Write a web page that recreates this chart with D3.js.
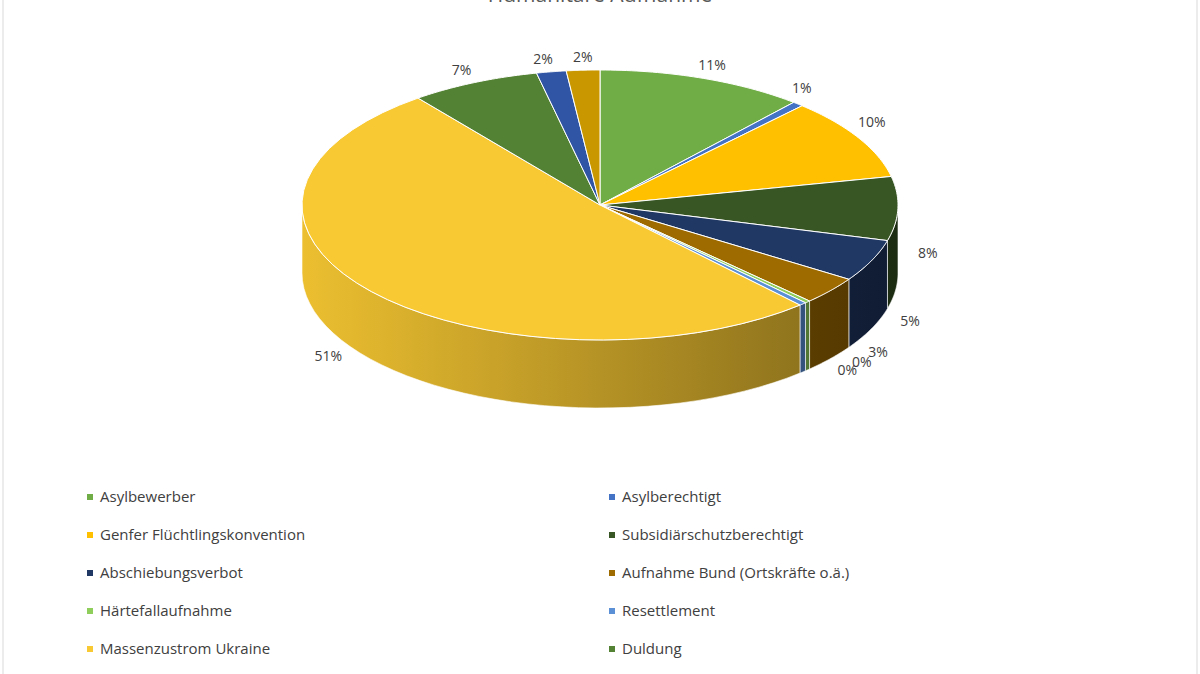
<!DOCTYPE html>
<html><head><meta charset="utf-8">
<script src="https://cdn.jsdelivr.net/npm/d3@7"></script>
<style>body{margin:0;background:#fff}svg{display:block}</style>
</head><body>
<svg id="chart" width="1200" height="674"></svg>
<script>
// values (percent of total)
const categories = ['Asylbewerber','Asylberechtigt','Genfer Flüchtlingskonvention','Subsidiärschutzberechtigt',
  'Abschiebungsverbot','Aufnahme Bund (Ortskräfte o.ä.)','Härtefallaufnahme','Resettlement',
  'Massenzustrom Ukraine','Duldung','Sonstige','Ohne Angabe'];
const shares = [11.2, 0.6, 9.7, 7.6, 5.0, 3.3, 0.3, 0.4, 51.0, 7.0, 1.6, 1.8];
const colors = ['#70ad47','#4472c4','#ffc000','#375623','#203864','#9e6b00','#8fce5a','#5b8fd6','#f9c933','#548235','#2f55a4','#c99700'];
const labelAngles = [20, 38, 56, 90, 109, 122, 127, 131, 236, 335, 350, 357];
const legendShown = 10;

const svg = d3.select('#chart');
const cx = 600, cy = 205, rx = 298, ry = 135, depth = 68;
const total = d3.sum(shares);
const ang = d3.scaleLinear().domain([0, total]).range([0, 2 * Math.PI]);
const pt = (a, r = 1, dz = 0) => [cx + rx * r * Math.sin(a), cy - ry * r * Math.cos(a) + dz];

let acc = 0;
const slices = shares.map((v, i) => {
  const s = { i, a0: ang(acc), a1: ang(acc + v) };
  acc += v;
  return s;
});

svg.append('rect').attr('x', 3).attr('y', -2).attr('width', 1194).attr('height', 680)
  .attr('fill', 'none').attr('stroke', '#d9d9d9');

const defs = svg.append('defs');
const arcPts = (a0, a1, dz) => d3.range(0, 41).map(k => pt(a0 + (a1 - a0) * k / 40, 1, dz));
const line = d3.line();

// side walls (front half only)
slices.forEach(s => {
  const a0 = Math.max(s.a0, Math.PI / 2), a1 = Math.min(s.a1, 3 * Math.PI / 2);
  if (a1 <= a0) return;
  const c = d3.color(colors[s.i]);
  const g = defs.append('linearGradient').attr('id', 'g' + s.i).attr('gradientUnits', 'userSpaceOnUse')
    .attr('x1', cx - rx).attr('x2', cx + rx).attr('y1', 0).attr('y2', 0);
  g.append('stop').attr('offset', 0).attr('stop-color', c.darker(0.15));
  g.append('stop').attr('offset', 1).attr('stop-color', c.darker(1.9));
  const top = arcPts(a0, a1, 0), bot = arcPts(a0, a1, depth).reverse();
  svg.append('path').attr('d', line(top.concat(bot)) + 'Z').attr('fill', `url(#g${s.i})`)
    .attr('stroke', '#fff').attr('stroke-width', 0.6);
});

// top faces
slices.forEach(s => {
  svg.append('path').attr('d', line([[cx, cy]].concat(arcPts(s.a0, s.a1, 0))) + 'Z')
    .attr('fill', colors[s.i]).attr('stroke', '#fff').attr('stroke-width', 1);
});

// data labels
slices.forEach(s => {
  const a = labelAngles[s.i] * Math.PI / 180;
  const drop = depth * Math.max(0, Math.min(1, -Math.cos(a) * 3 + 0.7));
  const [x, y] = pt(a, 1.1, drop);
  svg.append('text').attr('x', x).attr('y', y).attr('text-anchor', 'middle').attr('dy', '0.35em')
    .attr('font-family', 'Open Sans, sans-serif').attr('font-size', 14).attr('fill', '#404040')
    .text(Math.round(shares[s.i]) + '%');
});

svg.append('text').attr('x', 600).attr('y', 2).attr('text-anchor', 'middle')
  .attr('font-family', 'Open Sans, sans-serif').attr('font-size', 21).attr('fill', '#595959')
  .text('Humanitäre Aufnahme');

// legend, two columns (only the rows visible in the frame)
const lg = svg.append('g').selectAll('g').data(categories.slice(0, legendShown)).join('g')
  .attr('transform', (d, i) => `translate(${i % 2 ? 612 : 90},${497 + Math.floor(i / 2) * 38})`);
lg.append('rect').attr('x', -3).attr('y', -3).attr('width', 6).attr('height', 6).attr('fill', (d, i) => colors[i]);
lg.append('text').attr('x', 10).attr('dy', '0.35em').attr('font-family', 'Open Sans, sans-serif')
  .attr('font-size', 15).attr('fill', '#404040').text(d => d);
</script>
</body></html>
